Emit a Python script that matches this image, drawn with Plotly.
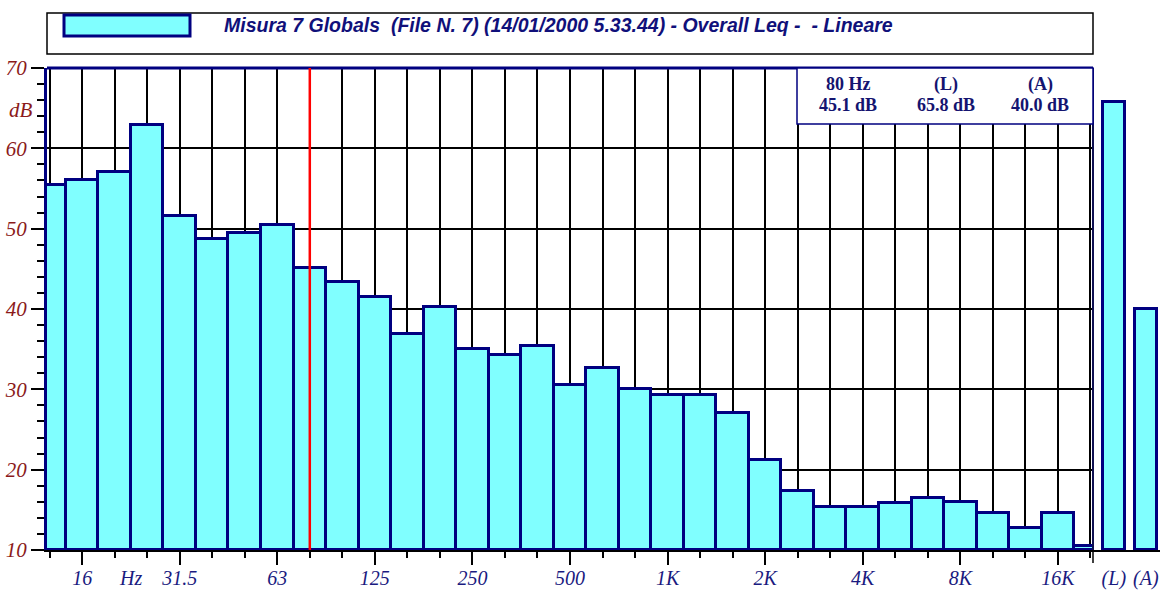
import plotly.graph_objects as go

# ---- data ----
bands = ["12.5", "16", "20", "25", "31.5", "40", "50", "63", "80", "100", "125",
         "160", "200", "250", "315", "400", "500", "630", "800", "1K", "1.25K",
         "1.6K", "2K", "2.5K", "3.15K", "4K", "5K", "6.3K", "8K", "10K", "12.5K",
         "16K", "20K"]
levels_db = [55.4, 56.0, 57.1, 62.9, 51.6, 48.7, 49.5, 50.4, 45.1, 43.4, 41.5,
             36.9, 40.3, 35.0, 34.3, 35.4, 30.5, 32.6, 30.0, 29.3, 29.3,
             27.0, 21.2, 17.3, 15.3, 15.3, 15.8, 16.5, 16.0, 14.6, 12.7,
             14.6, 10.5]
label_idx = [1, 4, 7, 10, 13, 16, 19, 22, 25, 28, 31]
label_text = ["16", "31.5", "63", "125", "250", "500", "1K", "2K", "4K", "8K", "16K"]
overall_cats = ["(L)", "(A)"]
overall_db = [65.8, 40.0]
cursor_idx = 8
cursor_info = [("80 Hz", "45.1 dB"), ("(L)", "65.8 dB"), ("(A)", "40.0 dB")]
title_text = "Misura 7 Globals&nbsp;&nbsp;(File N. 7) (14/01/2000 5.33.44) - Overall Leq -&nbsp;&nbsp;- Lineare"

NAVY = "#000080"
CYAN = "#80FFFF"
RED_TXT = "#8B1A1A"
LBL_BLUE = "#1A1A80"

W, H = 1163, 592
ml, mr, mt, mb = 47, 3, 68, 42
pw = W - ml - mr
ph = H - mt - mb
split = (1093 - 47) / pw

fig = go.Figure()
fig.add_trace(go.Bar(
    x=list(range(len(bands))), y=[v - 10 for v in levels_db], base=10,
    width=1, marker=dict(color=CYAN, line=dict(color=NAVY, width=3)),
    hovertext=bands, xaxis="x", yaxis="y", showlegend=False))
fig.add_trace(go.Bar(
    x=[0, 1], y=[v - 10 for v in overall_db], base=10, width=0.68,
    marker=dict(color=CYAN, line=dict(color=NAVY, width=3)),
    hovertext=overall_cats, xaxis="x2", yaxis="y2", showlegend=False))

serif_it = dict(family="Liberation Serif", style="italic")

fig.update_layout(
    width=W, height=H, margin=dict(l=ml, r=mr, t=mt, b=mb, autoexpand=False),
    paper_bgcolor="white", plot_bgcolor="white", bargap=0,
    xaxis=dict(domain=[0, split], range=[-0.08, 32.08], automargin=False,
               tickmode="array", tickvals=label_idx, ticktext=label_text,
               ticks="outside", ticklen=13, tickwidth=1.5, tickcolor="black",
               ticklabelstandoff=-4,
               tickfont=dict(size=20, color=LBL_BLUE, **serif_it),
               showgrid=True, gridcolor="black", gridwidth=1.5,
               minor=dict(tickmode="linear", tick0=0, dtick=1, ticks="outside",
                          ticklen=6, tickwidth=1.5, tickcolor="black",
                          showgrid=True, gridcolor="black", gridwidth=1.5),
               showline=True, linecolor="black", linewidth=1.5, zeroline=False,
               fixedrange=True),
    yaxis=dict(range=[10, 70], tickmode="linear", tick0=10, dtick=10, automargin=False,
               ticks="outside", ticklen=13, tickwidth=1.5, tickcolor="black",
               tickfont=dict(size=21, color=RED_TXT, **serif_it),
               showgrid=True, gridcolor="black", gridwidth=1.5,
               minor=dict(dtick=2, ticks="outside", ticklen=7, tickwidth=1.5,
                          tickcolor="black", showgrid=False),
               showline=True, linecolor=NAVY, linewidth=3, zeroline=False,
               fixedrange=True),
    xaxis2=dict(domain=[split, 1], range=[-0.65, 1.44], anchor="y2", automargin=False,
                tickmode="array", tickvals=[0, 1], ticktext=overall_cats,
                ticks="outside", ticklen=13, tickcolor="rgba(0,0,0,0)",
                ticklabelstandoff=-4,
                tickfont=dict(size=20, color=LBL_BLUE, **serif_it),
                showgrid=False, showline=True, linecolor="black", linewidth=1.5,
                zeroline=False, fixedrange=True),
    yaxis2=dict(range=[10, 70], anchor="x2", visible=False, fixedrange=True,
                automargin=False),
)

shapes = []
# plot borders
shapes.append(dict(type="line", xref="x domain", yref="y domain", x0=0, x1=1, y0=1, y1=1,
                   line=dict(color=NAVY, width=3), layer="above"))
shapes.append(dict(type="line", xref="x domain", yref="y domain", x0=1, x1=1, y0=0, y1=1,
                   line=dict(color="#101050", width=2), layer="above"))
shapes.append(dict(type="line", xref="x domain", yref="paper", x0=1, x1=1,
                   y0=-13 / ph, y1=0, line=dict(color="black", width=1.5)))
# cursor line
shapes.append(dict(type="line", xref="x", yref="y domain", x0=cursor_idx, x1=cursor_idx,
                   y0=0, y1=1, line=dict(color="red", width=2.5), layer="above"))
# info box
shapes.append(dict(type="rect", xref="x domain", yref="y domain",
                   x0=(797 - 47) / (1093 - 47), x1=1, y0=(550 - 124) / ph, y1=1,
                   fillcolor="white", line=dict(color=NAVY, width=1.5), layer="above"))
# legend / title box
shapes.append(dict(type="rect", xref="paper", yref="paper", x0=0, x1=split,
                   y0=(550 - 54) / ph, y1=(550 - 13) / ph,
                   fillcolor="white", line=dict(color="black", width=1.5)))
shapes.append(dict(type="rect", xref="paper", yref="paper",
                   x0=(64 - 47) / pw, x1=(190 - 47) / pw,
                   y0=(550 - 36) / ph, y1=(550 - 15) / ph,
                   fillcolor=CYAN, line=dict(color=NAVY, width=3)))
fig.update_layout(shapes=shapes)

ann = []
ann.append(dict(xref="paper", yref="paper", x=(222 - 47) / pw, y=(550 - 25) / ph,
                xanchor="left", yanchor="middle", showarrow=False, text=title_text,
                font=dict(family="Liberation Sans", size=19.5, color="#10107A",
                          style="italic", weight="bold")))
ann.append(dict(xref="paper", yref="y", x=0, xshift=-12, y=64.8, xanchor="right",
                yanchor="middle", showarrow=False, text="dB",
                font=dict(size=21, color=RED_TXT, **serif_it)))
ann.append(dict(xref="x", yref="paper", x=2.5, y=(550 - 578) / ph, xanchor="center",
                yanchor="middle", showarrow=False, text="Hz",
                font=dict(size=20, color=LBL_BLUE, **serif_it)))
info_x = [848, 946, 1040]
for (a, b), px in zip(cursor_info, info_x):
    for txt, py in ((a, 84), (b, 105)):
        ann.append(dict(xref="x domain", yref="y domain", x=(px - 47) / (1093 - 47),
                        y=(550 - py) / ph, xanchor="center", yanchor="middle",
                        showarrow=False, text=txt,
                        font=dict(family="Liberation Serif", size=18, color="#141470",
                                  weight="bold")))
fig.update_layout(annotations=ann)

fig.write_html(
    "out.html",
    config={"displayModeBar": False},
    post_script="document.body.style.margin='0px';document.body.style.overflow='hidden';",
)
